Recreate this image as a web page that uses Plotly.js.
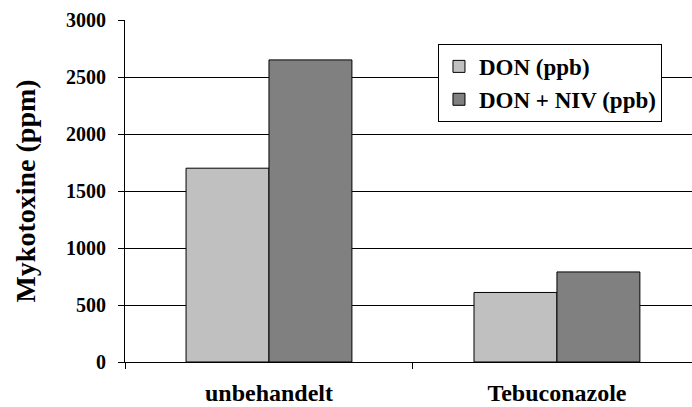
<!DOCTYPE html>
<html>
<head>
<meta charset="utf-8">
<script src="https://cdn.plot.ly/plotly-3.0.1.min.js"></script>
<style>html,body{margin:0;padding:0;background:#fff;}#chart{width:692px;height:407px;}</style>
</head>
<body>
<div id="chart"></div>
<script>
const categories = ["unbehandelt", "Tebuconazole"];
const seriesNames = ["DON (ppb)", "DON + NIV (ppb)"];
const donValues = [1700, 610];
const donNivValues = [2650, 790];
const yTickValues = [0, 500, 1000, 1500, 2000, 2500, 3000];

const font = "Times New Roman, Liberation Serif, DejaVu Serif, serif";

const traces = [
  {type: "bar", name: seriesNames[0], x: categories, y: donValues,
   marker: {color: "#C0C0C0", line: {color: "#000", width: 1}}},
  {type: "bar", name: seriesNames[1], x: categories, y: donNivValues,
   marker: {color: "#808080", line: {color: "#000", width: 1}}}
];

const layout = {
  width: 692, height: 407,
  margin: {l: 125, r: 0, t: 20, b: 45, pad: 0},
  paper_bgcolor: "#fff", plot_bgcolor: "#fff",
  barmode: "group", bargap: 0.424, bargroupgap: 0,
  font: {family: font, size: 20, color: "#000"},
  showlegend: true,
  legend: {x: 0.552, y: 0.93, xanchor: "left", yanchor: "top",
    bgcolor: "#fff", bordercolor: "#000", borderwidth: 1,
    font: {family: font, size: 23, color: "#000", weight: 700},
    tracegroupgap: 0},
  xaxis: {type: "category", range: [-0.5, 1.469], fixedrange: true,
    showline: true, linecolor: "#000", linewidth: 1,
    ticks: "outside", tickson: "boundaries", ticklen: 6, tickcolor: "#000",
    showgrid: false, zeroline: false, ticklabelstandoff: 9,
    tickfont: {family: font, size: 24, weight: 700, color: "#000"}},
  yaxis: {range: [0, 3000], tickvals: yTickValues, showline: true,
    linecolor: "#000", linewidth: 1, ticks: "outside", ticklen: 6, tickcolor: "#000",
    showgrid: true, gridcolor: "#000", gridwidth: 1, zeroline: false,
    ticklabelstandoff: 8, automargin: true,
    tickfont: {family: font, size: 20, weight: 700, color: "#000"},
    title: {text: "Mykotoxine (ppm)", standoff: 22,
      font: {family: font, size: 28, weight: 700, color: "#000"}}}
};

Plotly.newPlot("chart", traces, layout, {displayModeBar: false, staticPlot: true});
</script>
</body>
</html>
